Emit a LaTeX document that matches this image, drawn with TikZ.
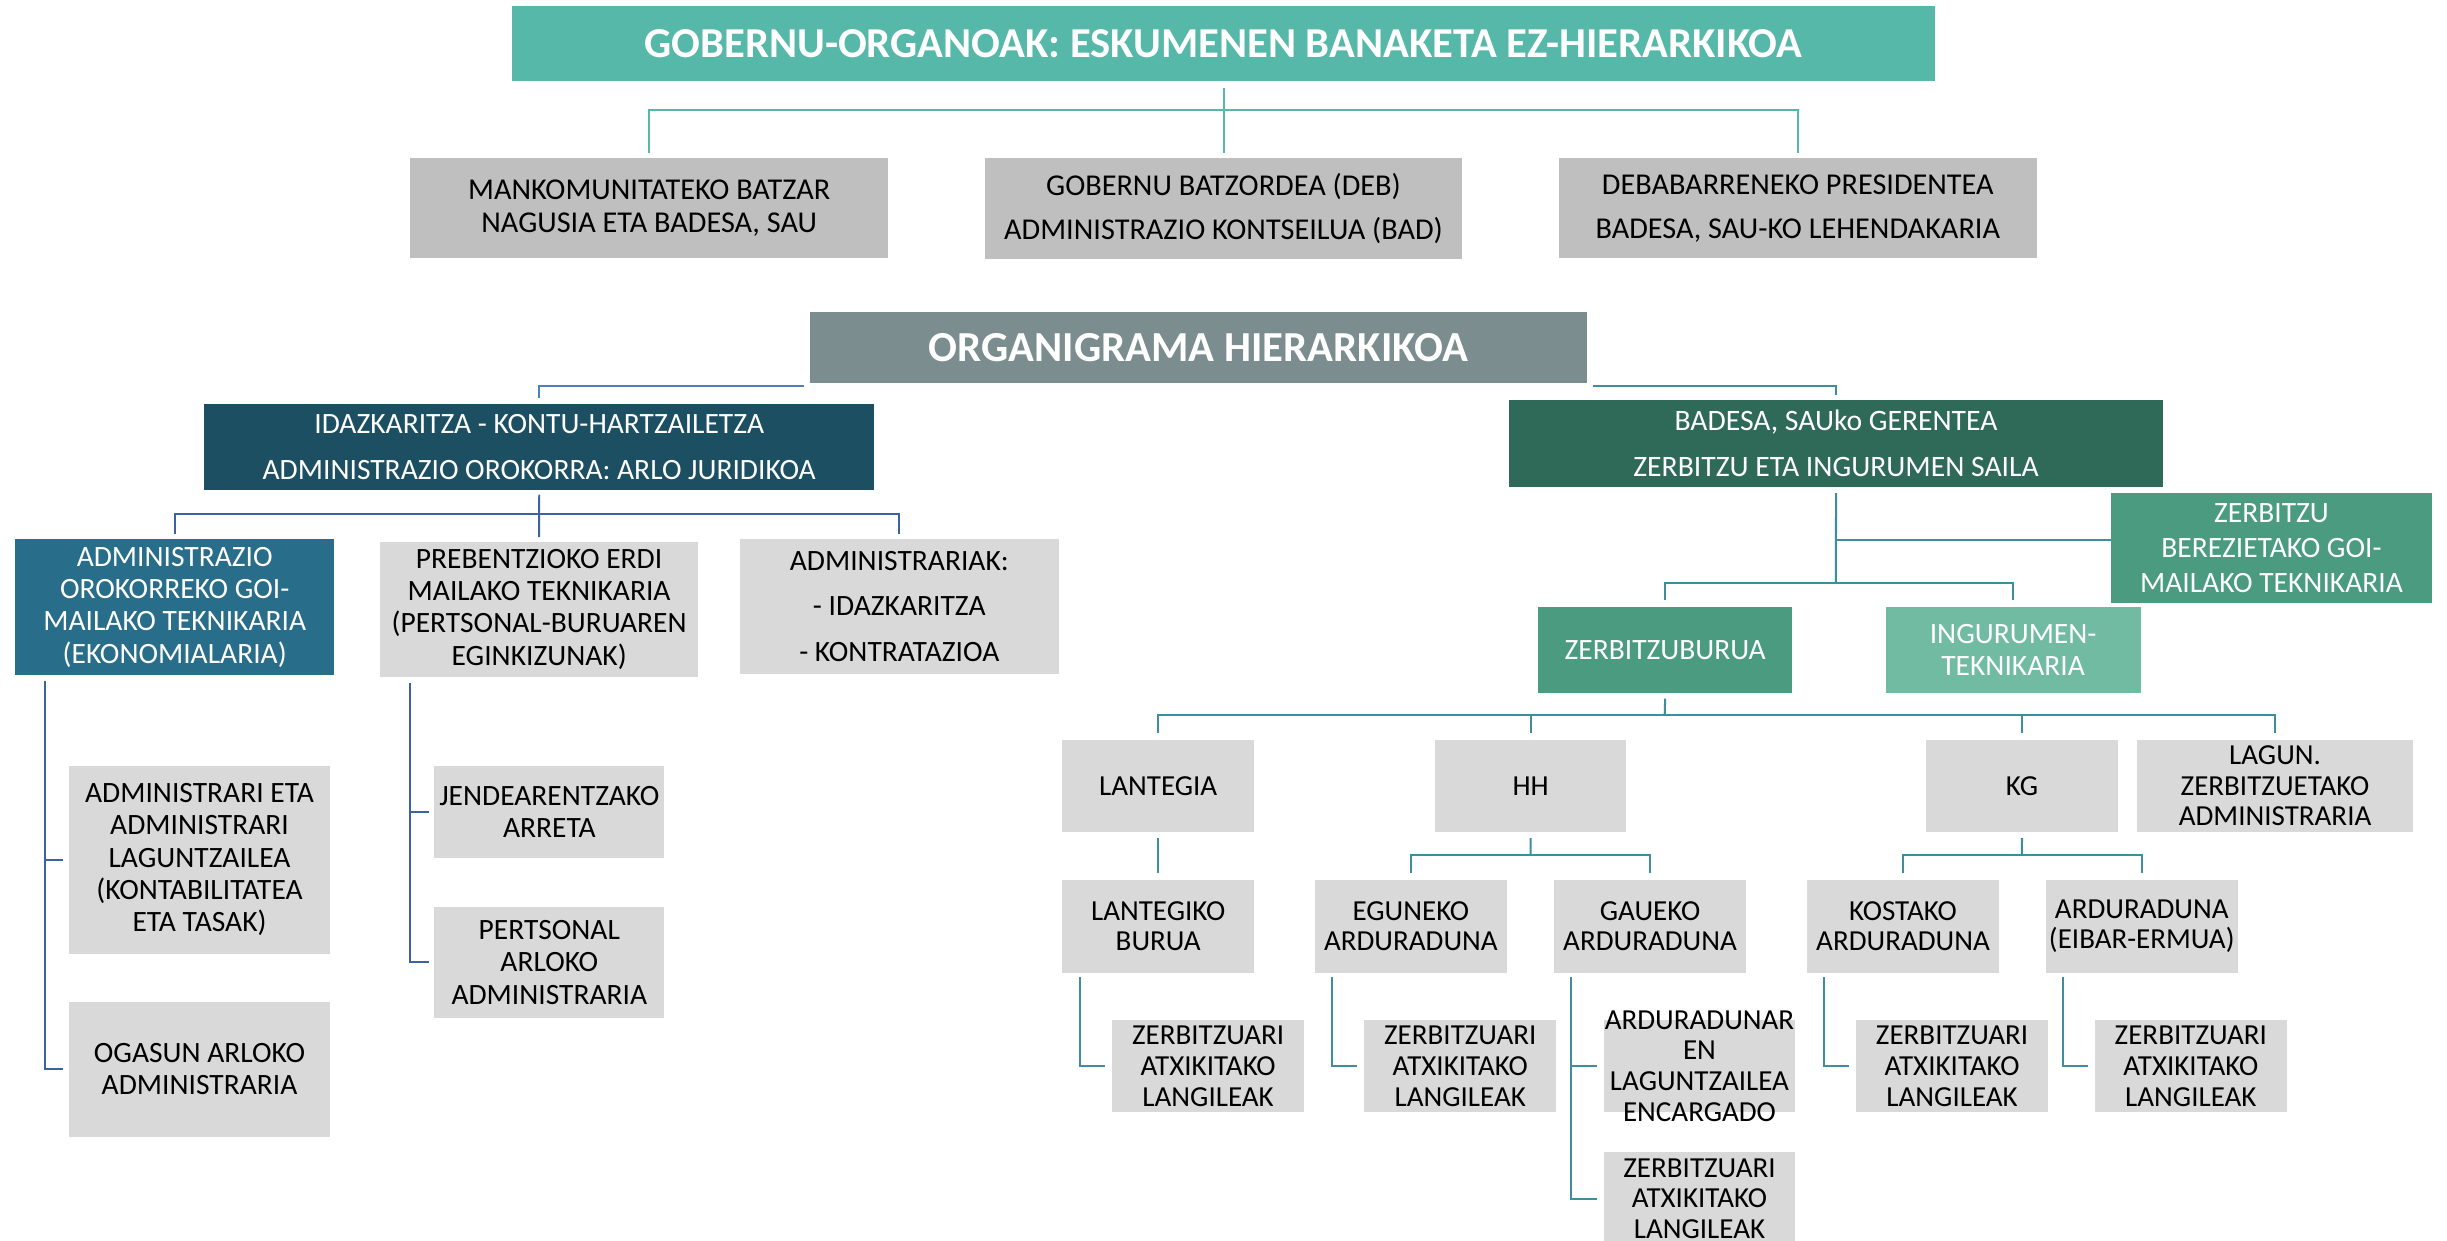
\documentclass[tikz,border=0pt]{standalone}
\usepackage{fontspec}
\setmainfont{Carlito}
\definecolor{titleC}{HTML}{56B8A8}
\definecolor{topgray}{HTML}{BFBFBF}
\definecolor{orgC}{HTML}{7B8D8E}
\definecolor{idazC}{HTML}{1D4F63}
\definecolor{badC}{HTML}{2F6A58}
\definecolor{aoroC}{HTML}{286D89}
\definecolor{ltgray}{HTML}{D9D9D9}
\definecolor{zbC}{HTML}{4A9B80}
\definecolor{ingC}{HTML}{70BBA2}
\definecolor{lineTop}{HTML}{56B8A8}
\definecolor{lineBlueA}{HTML}{4F80BD}
\definecolor{lineBlueB}{HTML}{3D62A3}
\definecolor{lineTeal}{HTML}{3F8E9E}
\begin{document}
\begin{tikzpicture}[x=1pt,y=-1pt,
  box/.style={inner sep=0pt,outer sep=0pt,anchor=north west,align=center},
  sz/.style 2 args={minimum width=#1pt,minimum height=#2pt},
  tl/.style={font=\fontsize{19.4}{21}\selectfont,text=black},
  lf/.style={font=\fontsize{18.9}{20.7}\selectfont},
  rf/.style={font=\fontsize{18.6}{19.7}\selectfont},
  graybox/.style={box,fill=ltgray,text=black},
  conTop/.style={draw=lineTop,line width=1.3pt},
  conA/.style={draw=lineBlueA,line width=1.3pt},
  conB/.style={draw=lineBlueB,line width=1.2pt},
  conT/.style={draw=lineTeal,line width=1.3pt}]
\useasboundingbox (0,0) rectangle (1568,795.2);
\fill[white] (0,0) rectangle (1568,795.2);

% top part
\node[box,fill=titleC,sz={912}{48},text=white,font=\fontsize{27.3}{30}\selectfont\bfseries] (title) at (328,4) {GOBERNU-ORGANOAK: ESKUMENEN BANAKETA EZ-HIERARKIKOA};
\node[box,fill=topgray,sz={306}{64},tl] (b1) at (263,101.5) {MANKOMUNITATEKO BATZAR\\NAGUSIA ETA BADESA, SAU};
\node[box,fill=topgray,sz={306}{64.5},tl] (b2) at (631,101.5) {GOBERNU BATZORDEA (DEB)\\[7pt]ADMINISTRAZIO KONTSEILUA (BAD)};
\node[box,fill=topgray,sz={306}{64},tl] (b3) at (999,101.5) {DEBABARRENEKO PRESIDENTEA\\[7pt]BADESA, SAU-KO LEHENDAKARIA};
\coordinate (bus1) at (784,70.5);
\draw[conTop] ([yshift=-4.5pt]title.south) -- ([yshift=3.5pt]b2.north);
\draw[conTop] ([yshift=3.5pt]b1.north) |- (bus1) -| ([yshift=3.5pt]b3.north);

% hierarchy
\node[box,fill=orgC,sz={498}{45.6},text=white,font=\fontsize{27.4}{30}\selectfont\bfseries] (org) at (519,200) {ORGANIGRAMA HIERARKIKOA};
\node[box,fill=idazC,sz={429}{55},text=white,font=\fontsize{18.9}{29}\selectfont] (idaz) at (131,259) {IDAZKARITZA - KONTU-HARTZAILETZA\\ADMINISTRAZIO OROKORRA: ARLO JURIDIKOA};
\node[box,fill=badC,sz={419}{56},text=white,font=\fontsize{19}{29}\selectfont] (badesa) at (967,256) {BADESA, SAUko GERENTEA\\ZERBITZU ETA INGURUMEN SAILA};
\draw[conA] ([xshift=-4pt,yshift=-2pt]org.south west) -| ([yshift=4pt]idaz.north);
\draw[conT] ([xshift=4pt,yshift=-2pt]org.south east) -| ([yshift=3pt]badesa.north);

% left branch
\node[box,fill=aoroC,sz={204.1}{87.2},text=white,lf] (aoro) at (9.9,345.4) {ADMINISTRAZIO\\OROKORREKO GOI-\\MAILAKO TEKNIKARIA\\(EKONOMIALARIA)};
\node[graybox,sz={203.7}{86.4},lf] (pre) at (243.6,347.2) {PREBENTZIOKO ERDI\\MAILAKO TEKNIKARIA\\(PERTSONAL-BURUAREN\\EGINKIZUNAK)};
\node[graybox,sz={204.1}{86.4},lf] (adm) at (474.2,345.4) {ADMINISTRARIAK:\\[8.3pt]- IDAZKARITZA\\[8.3pt]- KONTRATAZIOA};
\coordinate (bus2) at (345.5,329.5);
\draw[conB] ([yshift=-3pt]idaz.south) -- ([yshift=3pt]pre.north);
\draw[conB] ([yshift=3pt]aoro.north) |- (bus2) -| ([yshift=3pt]adm.north);

\node[graybox,sz={167.7}{120.5},lf] (adm1) at (44,490.6) {ADMINISTRARI ETA\\ADMINISTRARI\\LAGUNTZAILEA\\(KONTABILITATEA\\ETA TASAK)};
\node[graybox,sz={167.7}{86.2},lf] (ogas) at (44,642.1) {OGASUN ARLOKO\\ADMINISTRARIA};
\draw[conB] ([xshift=19pt,yshift=-3.5pt]aoro.south west) |- ([xshift=-3.5pt]ogas.west);
\draw[conB] ([xshift=19pt,yshift=-3.5pt]aoro.south west) |- ([xshift=-3.5pt]adm1.west);

\node[graybox,sz={147.4}{59.3},lf] (jend) at (278.3,490.6) {JENDEARENTZAKO\\ARRETA};
\node[graybox,sz={147.4}{71.2},lf] (pers) at (278.3,581) {PERTSONAL\\ARLOKO\\ADMINISTRARIA};
\draw[conB] ([xshift=19pt,yshift=-4pt]pre.south west) |- ([xshift=-3.6pt]pers.west);
\draw[conB] ([xshift=19pt,yshift=-4pt]pre.south west) |- ([xshift=-3.6pt]jend.west);

% right branch
\node[box,fill=zbC,sz={205.6}{70.6},text=white,font=\fontsize{18.9}{22.6}\selectfont] (zbg) at (1352.7,316) {ZERBITZU\\BEREZIETAKO GOI-\\MAILAKO TEKNIKARIA};
\node[box,fill=zbC,sz={162.8}{54.8},text=white,lf] (zb) at (985.6,389) {ZERBITZUBURUA};
\node[box,fill=ingC,sz={163.3}{54.8},text=white,lf] (ing) at (1208.3,389) {INGURUMEN-\\TEKNIKARIA};
\coordinate (bus3) at (1176.4,373.5);
\draw[conT] ([yshift=-4pt]badesa.south) -- (bus3);
\draw[conT] ([yshift=5pt]zbg.west) -- ([yshift=5pt]zbg.west -| badesa.south);
\draw[conT] ([yshift=4.3pt]zb.north) |- (bus3) -| ([yshift=4.3pt]ing.north);

\node[graybox,sz={122.7}{59},rf] (lant) at (680.8,474) {LANTEGIA};
\node[graybox,sz={122.8}{59},rf] (hh) at (919.4,474) {HH};
\node[graybox,sz={123.3}{59},rf] (kg) at (1234,474) {KG};
\node[graybox,sz={177}{59},rf] (lagun) at (1369.3,474) {LAGUN.\\ZERBITZUETAKO\\ADMINISTRARIA};
\coordinate (bus4) at (1066.7,458.4);
\draw[conT] ([yshift=-3.8pt]zb.south) -- (bus4);
\draw[conT] ([yshift=4.6pt]lant.north) |- (bus4) -| ([yshift=4.6pt]lagun.north);
\draw[conT] ([yshift=4.6pt]hh.north) -- (hh.north |- bus4);
\draw[conT] ([yshift=4.6pt]kg.north) -- (kg.north |- bus4);

\node[graybox,sz={122.7}{59.7},rf] (lantb) at (680.8,563.6) {LANTEGIKO\\BURUA};
\node[graybox,sz={123.3}{59.7},rf] (egun) at (842.4,563.6) {EGUNEKO\\ARDURADUNA};
\node[graybox,sz={122.8}{59.7},rf] (gau) at (995.9,563.6) {GAUEKO\\ARDURADUNA};
\node[graybox,sz={122.8}{59.7},rf] (kost) at (1158,563.6) {KOSTAKO\\ARDURADUNA};
\node[graybox,sz={122.8}{59.7},rf] (eib) at (1311,563.6) {ARDURADUNA\\(EIBAR-ERMUA)};
\coordinate (bus5) at (980.8,548);
\coordinate (bus6) at (1295.6,548);
\draw[conT] ([yshift=-4pt]lant.south) -- ([yshift=4pt]lantb.north);
\draw[conT] ([yshift=-4pt]hh.south) -- (bus5);
\draw[conT] ([yshift=4pt]egun.north) |- (bus5) -| ([yshift=4pt]gau.north);
\draw[conT] ([yshift=-4pt]kg.south) -- (bus6);
\draw[conT] ([yshift=4pt]kost.north) |- (bus6) -| ([yshift=4pt]eib.north);

\node[graybox,sz={122.7}{59.4},rf] (z1) at (712.8,653.4) {ZERBITZUARI\\ATXIKITAKO\\LANGILEAK};
\node[graybox,sz={122.8}{59.4},rf] (z2) at (874.3,653.4) {ZERBITZUARI\\ATXIKITAKO\\LANGILEAK};
\node[graybox,sz={122.2}{59.4},label={[rf,align=center,text=black]center:{ARDURADUNAR\\EN\\LAGUNTZAILEA\\ENCARGADO}}] (ardn) at (1027.9,653.4) {};
\node[graybox,sz={122.2}{59.4},rf] (z3) at (1027.9,738.3) {ZERBITZUARI\\ATXIKITAKO\\LANGILEAK};
\node[graybox,sz={122.7}{59.4},rf] (z4) at (1189.5,653.4) {ZERBITZUARI\\ATXIKITAKO\\LANGILEAK};
\node[graybox,sz={122.7}{59.4},rf] (z5) at (1342.5,653.4) {ZERBITZUARI\\ATXIKITAKO\\LANGILEAK};

\draw[conT] ([xshift=11pt,yshift=-3pt]lantb.south west) |- ([xshift=-4.5pt]z1.west);
\draw[conT] ([xshift=11pt,yshift=-3pt]egun.south west) |- ([xshift=-4.5pt]z2.west);
\draw[conT] ([xshift=11pt,yshift=-3pt]gau.south west) |- ([xshift=-4.5pt]z3.west);
\draw[conT] ([xshift=11pt,yshift=-3pt]gau.south west) |- ([xshift=-4.5pt]ardn.west);
\draw[conT] ([xshift=11pt,yshift=-3pt]kost.south west) |- ([xshift=-4.5pt]z4.west);
\draw[conT] ([xshift=11pt,yshift=-3pt]eib.south west) |- ([xshift=-4.5pt]z5.west);
\end{tikzpicture}
\end{document}
